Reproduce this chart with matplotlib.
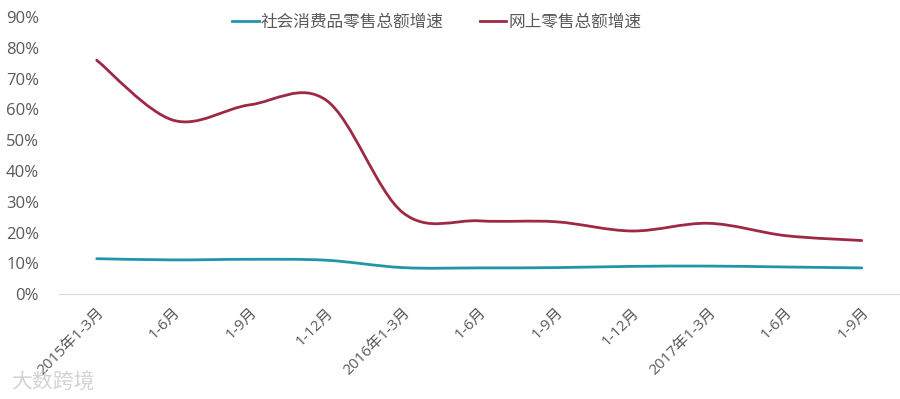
import numpy as np
import matplotlib
matplotlib.use('Agg')
import matplotlib.pyplot as plt
from matplotlib.path import Path
from matplotlib.patches import PathPatch
from matplotlib.lines import Line2D
from matplotlib.ticker import PercentFormatter

plt.rcParams['font.family'] = ['Open Sans', 'Noto Sans CJK SC', 'DejaVu Sans']

periods = ['2015年1-3月', '1-6月', '1-9月', '1-12月', '2016年1-3月', '1-6月',
           '1-9月', '1-12月', '2017年1-3月', '1-6月', '1-9月']
social_retail = [11.5, 11.1, 11.3, 11.0, 8.6, 8.5, 8.6, 9.0, 9.1, 8.8, 8.5]
online_retail = [76.0, 56.5, 61.5, 63.0, 26.5, 23.8, 23.5, 20.5, 23.0, 19.0, 17.4]

teal = '#2196AA'
red = '#9E2944'
gray = '#595959'


def smooth_path(xs, ys):
    # Excel-style smoothed line: Catmull-Rom segments as cubic Bezier curves
    pts = np.column_stack([xs, ys]).astype(float)
    ext = np.vstack([pts[0], pts, pts[-1]])
    verts = [tuple(pts[0])]
    codes = [Path.MOVETO]
    for i in range(1, len(ext) - 2):
        p0, p1, p2, p3 = ext[i - 1], ext[i], ext[i + 1], ext[i + 2]
        c1 = p1 + (p2 - p0) / 6.0
        c2 = p2 - (p3 - p1) / 6.0
        verts += [tuple(c1), tuple(c2), tuple(p2)]
        codes += [Path.CURVE4] * 3
    return Path(verts, codes)


fig = plt.figure(figsize=(9, 3.99), dpi=100)
ax = fig.add_axes([0.065, 0.263, 0.935, 0.694])

x = np.arange(len(periods))
for vals, col in [(social_retail, teal), (online_retail, red)]:
    ax.add_patch(PathPatch(smooth_path(x, vals), facecolor='none',
                           edgecolor=col, lw=2.0, capstyle='round'))

ax.set_xlim(-0.5, len(periods) - 0.5)
ax.set_ylim(0, 90)
ax.set_yticks(np.arange(0, 91, 10))
ax.yaxis.set_major_formatter(PercentFormatter(decimals=0))
ax.set_xticks(x)
ax.set_xticklabels(periods, rotation=45, ha='right', rotation_mode='anchor')

for s in ['top', 'right', 'left']:
    ax.spines[s].set_visible(False)
ax.spines['bottom'].set_color('#D9D9D9')
ax.tick_params(axis='both', length=0, colors=gray)
ax.tick_params(axis='y', labelsize=12, pad=14)
ax.tick_params(axis='x', labelsize=11, pad=8)

handles = [Line2D([], [], color=teal, lw=2.0), Line2D([], [], color=red, lw=2.0)]
fig.legend(handles, ['社会消费品零售总额增速', '网上零售总额增速'],
           loc='upper center', bbox_to_anchor=(0.485, 1.0), ncol=2,
           frameon=False, fontsize=12, handlelength=1.6, handletextpad=0.1,
           columnspacing=2.2, labelcolor=gray)

fig.text(0.012, 0.025, '大数跨境', fontsize=15, color='#CFCFCF', alpha=0.9)

fig.savefig('out.png', dpi=100, facecolor='white')
